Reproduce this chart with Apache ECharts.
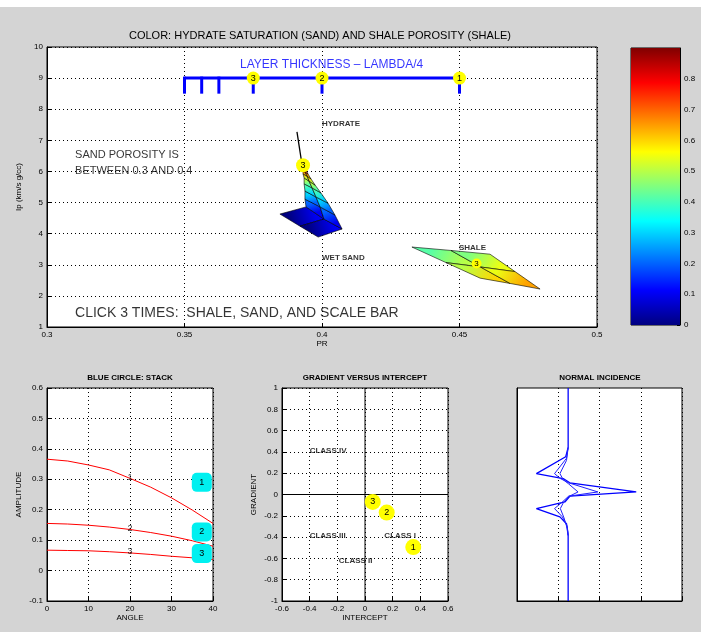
<!DOCTYPE html>
<html><head><meta charset="utf-8">
<script src="https://cdn.jsdelivr.net/npm/echarts@6/dist/echarts.min.js"></script>
<style>html,body{margin:0;padding:0;background:#fff}#c{width:701px;height:632px}</style>
</head><body><div id="c"></div>
<script>
// ---------------- DATA ----------------
const prRange = [0.3, 0.5];
const ipRange = [1, 10];
const colorRange = [0, 0.9];

// sand surface mesh (3 columns, rows = hydrate saturation)
const sandSat  = [0, 0.1, 0.2, 0.3, 0.4, 0.5, 0.6, 0.7, 0.8, 0.9];
const sandPR_A = [0.3847, 0.3942, 0.3938, 0.3938, 0.3935, 0.3935, 0.3931, 0.3931, 0.3927, 0.3927];
const sandIp_A = [4.63, 4.86, 5.11, 5.37, 5.60, 5.79, 5.92, 6.05, 6.14, 6.24];
const sandPR_B = [0.3920, 0.4007, 0.3993, 0.3978, 0.3964, 0.3953, 0.3946, 0.3938, 0.3935, 0.3931];
const sandIp_B = [4.24, 4.47, 4.86, 5.18, 5.47, 5.69, 5.85, 5.98, 6.11, 6.21];
const sandPR_C = [0.3986, 0.4073, 0.4047, 0.4022, 0.3996, 0.3975, 0.3960, 0.3949, 0.3942, 0.3935];
const sandIp_C = [3.89, 4.15, 4.60, 4.98, 5.31, 5.56, 5.76, 5.92, 6.05, 6.17];
const sandLinePR = [0.3909, 0.3927];
const sandLineIp = [7.27, 6.24];

// shale surface mesh (3 x 3), colour = shale porosity
const shalePR  = [[0.4327, 0.4469, 0.4611], [0.4451, 0.4576, 0.4702], [0.4575, 0.4684, 0.4793]];
const shaleIp  = [[3.57, 3.46, 3.34], [3.07, 2.93, 2.78], [2.57, 2.40, 2.22]];
const shaleVal = [[0.40, 0.43, 0.47], [0.48, 0.52, 0.57], [0.58, 0.62, 0.67]];

// scale bar
const scaleBarIp = 9;
const scaleTickBottom = 8.5;
const scaleBarPR = [0.35, 0.45];
const scaleTicks = [0.35, 0.35625, 0.3625, 0.375, 0.4, 0.45];
const scaleCirclePR = [0.375, 0.4, 0.45];
const scaleCircleLbl = ['3', '2', '1'];

const sandCircle = [0.3931, 6.2, '3'];
const shaleCircle = [0.4562, 3.04, '3'];

// stack panel
const stackAngle = [0, 5, 10, 15, 20, 25, 30, 35, 40];
const stackAmp1 = [0.366, 0.360, 0.347, 0.331, 0.303, 0.274, 0.239, 0.199, 0.155];
const stackAmp2 = [0.155, 0.153, 0.149, 0.143, 0.135, 0.125, 0.113, 0.098, 0.080];
const stackAmp3 = [0.067, 0.066, 0.065, 0.062, 0.058, 0.053, 0.047, 0.042, 0.036];
const stackCurveLblAmp = [0.305, 0.137, 0.062];
const stackBoxAngle = 37.3;
const stackBoxAmp = [0.29, 0.127, 0.056];
const stackLbl = ['1', '2', '3'];

// gradient vs intercept
const giIntercept = [0.349, 0.157, 0.056];
const giGradient = [-0.494, -0.17, -0.07];
const giLbl = ['1', '2', '3'];
const classNames = ['CLASS IV', 'CLASS III', 'CLASS II', 'CLASS I'];
const classX = [-0.40, -0.40, -0.19, 0.14];
const classY = [0.41, -0.39, -0.62, -0.39];

// normal incidence traces (amplitude offset, time)
const niTime1 = [0, 27.9, 32.3, 40.2, 42.5, 44.5, 48.8, 50.8, 53.5, 56.6, 60.5, 63.7, 69.2, 100];
const niAmp1  = [1.24, 1.24, 1.18, 0.47, 1.12, 1.28, 2.89, 1.28, 1.16, 0.47, 1.04, 1.20, 1.24, 1.24];
const niTime2 = [27.9, 33, 40.2, 42.5, 44.5, 48.8, 50.8, 53.5, 56.6, 60.5, 65, 69.2];
const niAmp2  = [1.24, 1.20, 0.91, 1.05, 1.25, 1.96, 1.25, 1.10, 0.91, 1.10, 1.22, 1.24];
const niTime3 = [28, 34, 40.2, 43, 45, 48.8, 51, 54, 56.6, 61, 66, 69.2];
const niAmp3  = [1.24, 1.20, 1.04, 1.12, 1.25, 1.48, 1.25, 1.12, 1.05, 1.14, 1.22, 1.24];

// ---------------- HELPERS ----------------
const FONT = 'Liberation Sans, Arial, Helvetica, sans-serif';
function jet(v) {
  const t = (v - colorRange[0]) / (colorRange[1] - colorRange[0]);
  const c = x => Math.round(255 * Math.max(0, Math.min(1, x)));
  return 'rgb(' + c(1.5 - Math.abs(4 * t - 3)) + ',' + c(1.5 - Math.abs(4 * t - 2)) + ',' + c(1.5 - Math.abs(4 * t - 1)) + ')';
}
const zip = (a, b) => a.map((v, i) => [v, b[i]]);

const sandQuads = [];
const cols = [[sandPR_A, sandIp_A], [sandPR_B, sandIp_B], [sandPR_C, sandIp_C]];
for (let i = 0; i < sandSat.length - 1; i++) {
  for (let c = 0; c < 2; c++) {
    const [pa, ia] = cols[c], [pb, ib] = cols[c + 1];
    sandQuads.push([pa[i], ia[i], pb[i], ib[i], pb[i + 1], ib[i + 1], pa[i + 1], ia[i + 1], sandSat[i], sandSat[i + 1]]);
  }
}
const shaleQuads = [];
for (let r = 0; r < 2; r++) {
  for (let c = 0; c < 2; c++) {
    shaleQuads.push([shalePR[r][c], shaleIp[r][c], shalePR[r][c + 1], shaleIp[r][c + 1],
      shalePR[r + 1][c + 1], shaleIp[r + 1][c + 1], shalePR[r + 1][c], shaleIp[r + 1][c],
      (shaleVal[r][c] + shaleVal[r][c + 1]) / 2, (shaleVal[r + 1][c] + shaleVal[r + 1][c + 1]) / 2]);
  }
}

function quadRender(params, api) {
  const p = [];
  for (let k = 0; k < 4; k++) p.push(api.coord([api.value(2 * k), api.value(2 * k + 1)]));
  const m0 = [(p[0][0] + p[1][0]) / 2, (p[0][1] + p[1][1]) / 2];
  const m1 = [(p[2][0] + p[3][0]) / 2, (p[2][1] + p[3][1]) / 2];
  const fill = new echarts.graphic.LinearGradient(m0[0], m0[1], m1[0], m1[1],
    [{ offset: 0, color: jet(api.value(8)) }, { offset: 1, color: jet(api.value(9)) }], true);
  return { type: 'polygon', shape: { points: p }, style: { fill: fill, stroke: '#000', lineWidth: 0.6 } };
}

const dotted = { show: true, lineStyle: { color: '#000', type: [1, 3], width: 1 } };
const lbl = (size) => ({ color: '#000', fontSize: size, fontFamily: FONT, margin: 4 });
const tick = { show: true, inside: true, length: 4, lineStyle: { color: '#000' } };
const aline = { show: true, onZero: false, lineStyle: { color: '#000', width: 1 } };
const gridBase = { show: true, backgroundColor: '#fff', borderColor: '#000', borderWidth: 1, containLabel: false };
const nameStyle = { fontSize: 8, fontFamily: FONT, color: '#000' };

function textSeries(xi, yi, items, opts) {
  return {
    type: 'scatter', xAxisIndex: xi, yAxisIndex: yi, symbolSize: 0, silent: true, z: 8,
    data: items,
    label: Object.assign({ show: true, position: 'right', distance: 0, formatter: p => p.data[2],
      color: '#000', fontFamily: FONT, fontSize: 9 }, opts)
  };
}
function circleSeries(xi, yi, items, size, color, symbol, fs) {
  return {
    type: 'scatter', xAxisIndex: xi, yAxisIndex: yi, symbol: symbol || 'circle', symbolSize: size, z: 9,
    itemStyle: { color: color, opacity: 1 },
    data: items,
    label: { show: true, position: 'inside', formatter: p => p.data[2], color: '#000', fontSize: fs || 8, fontFamily: FONT }
  };
}

const option = {
  backgroundColor: '#d4d4d4',
  animation: false,
  graphic: [
    { type: 'rect', shape: { x: 0, y: 0, width: 701, height: 7 }, style: { fill: '#fff' }, silent: true },
    { type: 'text', position: [320, 36], style: { text: 'COLOR: HYDRATE SATURATION (SAND) AND SHALE POROSITY (SHALE)', fill: '#000', font: '11px ' + FONT, textAlign: 'center', textVerticalAlign: 'middle' } },
    { type: 'text', position: [130, 378], style: { text: 'BLUE CIRCLE: STACK', fill: '#000', font: 'bold 8px ' + FONT, textAlign: 'center', textVerticalAlign: 'middle' } },
    { type: 'text', position: [365, 378], style: { text: 'GRADIENT VERSUS INTERCEPT', fill: '#000', font: 'bold 8px ' + FONT, textAlign: 'center', textVerticalAlign: 'middle' } },
    { type: 'text', position: [600, 378], style: { text: 'NORMAL INCIDENCE', fill: '#000', font: 'bold 8px ' + FONT, textAlign: 'center', textVerticalAlign: 'middle' } }
  ],
  grid: [
    Object.assign({ left: 47, top: 47, width: 550, height: 280 }, gridBase),
    Object.assign({ left: 631, top: 48, width: 49, height: 277 }, gridBase),
    Object.assign({ left: 47, top: 388, width: 166, height: 213 }, gridBase),
    Object.assign({ left: 282, top: 388, width: 166, height: 213 }, gridBase),
    Object.assign({ left: 517, top: 388, width: 165, height: 213 }, gridBase)
  ],
  xAxis: [
    { gridIndex: 0, type: 'value', min: prRange[0], max: prRange[1], interval: 0.05, name: 'PR', nameLocation: 'middle', nameGap: 13,
      nameTextStyle: nameStyle, axisLabel: lbl(8), axisTick: tick, axisLine: aline, splitLine: dotted },
    { gridIndex: 1, type: 'value', min: 0, max: 1, show: false },
    { gridIndex: 2, type: 'value', min: 0, max: 40, interval: 10, name: 'ANGLE', nameLocation: 'middle', nameGap: 12,
      nameTextStyle: nameStyle, axisLabel: lbl(8), axisTick: tick, axisLine: aline, splitLine: dotted },
    { gridIndex: 3, type: 'value', min: -0.6, max: 0.6, interval: 0.2, name: 'INTERCEPT', nameLocation: 'middle', nameGap: 12,
      nameTextStyle: nameStyle, axisLabel: lbl(8), axisTick: tick, axisLine: aline, splitLine: dotted },
    { gridIndex: 4, type: 'value', min: 0, max: 4, interval: 1, axisLabel: { show: false }, axisTick: tick, axisLine: aline, splitLine: dotted }
  ],
  yAxis: [
    { gridIndex: 0, type: 'value', min: ipRange[0], max: ipRange[1], interval: 1, name: 'Ip (km/s g/cc)', nameLocation: 'middle', nameGap: 13,
      nameTextStyle: nameStyle, axisLabel: lbl(8), axisTick: tick, axisLine: aline, splitLine: dotted },
    { gridIndex: 1, type: 'value', min: colorRange[0], max: colorRange[1], interval: 0.1, position: 'right',
      axisLabel: Object.assign(lbl(8), { showMaxLabel: false }), axisTick: { show: true, inside: true, length: 3, lineStyle: { color: '#000' } }, axisLine: aline, splitLine: { show: false } },
    { gridIndex: 2, type: 'value', min: -0.1, max: 0.6, interval: 0.1, name: 'AMPLITUDE', nameLocation: 'middle', nameGap: 24,
      nameTextStyle: nameStyle, axisLabel: lbl(8), axisTick: tick, axisLine: aline, splitLine: dotted },
    { gridIndex: 3, type: 'value', min: -1, max: 1, interval: 0.2, name: 'GRADIENT', nameLocation: 'middle', nameGap: 24,
      nameTextStyle: nameStyle, axisLabel: lbl(8), axisTick: tick, axisLine: aline, splitLine: dotted },
    { gridIndex: 4, type: 'value', min: 0, max: 100, inverse: true, axisLabel: { show: false }, axisTick: { show: false }, axisLine: aline, splitLine: { show: false } }
  ],
  series: [
    // ---- main panel ----
    { type: 'custom', xAxisIndex: 0, yAxisIndex: 0, renderItem: quadRender, data: sandQuads, z: 3,
      encode: { x: [0, 2, 4, 6], y: [1, 3, 5, 7] } },
    { type: 'custom', xAxisIndex: 0, yAxisIndex: 0, renderItem: quadRender, data: shaleQuads, z: 3,
      encode: { x: [0, 2, 4, 6], y: [1, 3, 5, 7] } },
    { type: 'line', xAxisIndex: 0, yAxisIndex: 0, data: zip(sandLinePR, sandLineIp), symbol: 'none', z: 4,
      lineStyle: { color: '#000', width: 1.3 } },
    { type: 'line', xAxisIndex: 0, yAxisIndex: 0, data: scaleBarPR.map(x => [x, scaleBarIp]), symbol: 'none', z: 5,
      lineStyle: { color: '#0000ff', width: 3 } },
    { type: 'custom', xAxisIndex: 0, yAxisIndex: 0, z: 5, data: scaleTicks.map(x => [x, scaleBarIp, scaleTickBottom]),
      encode: { x: 0, y: [1, 2] },
      renderItem: (params, api) => {
        const a = api.coord([api.value(0), api.value(1)]), b = api.coord([api.value(0), api.value(2)]);
        return { type: 'line', shape: { x1: a[0], y1: a[1] - 1.5, x2: b[0], y2: b[1] }, style: { stroke: '#0000ff', lineWidth: 3 } };
      } },
    circleSeries(0, 0, scaleCirclePR.map((x, i) => [x, scaleBarIp, scaleCircleLbl[i]]), 13, '#ffff00', 'circle', 9),
    circleSeries(0, 0, [sandCircle], 14, '#ffff00', 'circle', 9),
    circleSeries(0, 0, [shaleCircle], 10, '#ffff00', 'circle', 8),
    textSeries(0, 0, [[0.3702, 9.42, 'LAYER THICKNESS \u2013 LAMBDA/4']], { color: '#0000ff', fontSize: 12 }),
    textSeries(0, 0, [[0.4, 7.52, 'HYDRATE'], [0.4, 3.22, 'WET SAND'], [0.4498, 3.54, 'SHALE']], { fontSize: 8, fontWeight: 'bold' }),
    textSeries(0, 0, [[0.3102, 6.53, 'SAND POROSITY IS'], [0.3102, 6.01, 'BETWEEN 0.3 AND 0.4']], { fontSize: 11 }),
    textSeries(0, 0, [[0.3102, 1.45, 'CLICK 3 TIMES:  SHALE, SAND, AND SCALE BAR']], { fontSize: 14 }),
    // ---- colorbar ----
    { type: 'custom', xAxisIndex: 1, yAxisIndex: 1, data: [[0, colorRange[0], 1, colorRange[1]]], encode: { x: [0, 2], y: [1, 3] },
      renderItem: (params, api) => {
        const a = api.coord([api.value(0), api.value(3)]), b = api.coord([api.value(2), api.value(1)]);
        const stops = [0, 0.125, 0.375, 0.625, 0.875, 1].map(t => ({ offset: 1 - t, color: jet(colorRange[0] + t * (colorRange[1] - colorRange[0])) }));
        stops.reverse();
        return { type: 'rect', shape: { x: a[0], y: a[1], width: b[0] - a[0], height: b[1] - a[1] },
          style: { fill: new echarts.graphic.LinearGradient(0, 0, 0, 1, stops) } };
      } },
    // ---- stack panel ----
    ...[stackAmp1, stackAmp2, stackAmp3].map(a => ({ type: 'line', xAxisIndex: 2, yAxisIndex: 2, data: zip(stackAngle, a),
      symbol: 'none', smooth: false, lineStyle: { color: '#ff0000', width: 1 }, z: 3 })),
    textSeries(2, 2, stackLbl.map((l, i) => [20, stackCurveLblAmp[i], l]), { fontSize: 9, position: 'inside' }),
    circleSeries(2, 2, stackLbl.map((l, i) => [stackBoxAngle, stackBoxAmp[i], l]), [20, 19], '#00f0f0', 'roundRect', 9),
    // ---- gradient vs intercept ----
    { type: 'line', xAxisIndex: 3, yAxisIndex: 3, data: [[0, -1], [0, 1]], symbol: 'none', lineStyle: { color: '#000', width: 1 }, z: 2 },
    { type: 'line', xAxisIndex: 3, yAxisIndex: 3, data: [[-0.6, 0], [0.6, 0]], symbol: 'none', lineStyle: { color: '#000', width: 1 }, z: 2 },
    textSeries(3, 3, classNames.map((n, i) => [classX[i], classY[i], n]), { fontSize: 8, fontWeight: 'bold' }),
    circleSeries(3, 3, giLbl.map((l, i) => [giIntercept[i], giGradient[i], l]), 16, '#ffff00', 'circle', 9),
    // ---- normal incidence ----
    { type: 'line', xAxisIndex: 4, yAxisIndex: 4, data: zip(niAmp1, niTime1), symbol: 'none', lineStyle: { color: '#0000ff', width: 1.3 } },
    { type: 'line', xAxisIndex: 4, yAxisIndex: 4, data: zip(niAmp2, niTime2), symbol: 'none', lineStyle: { color: '#2020ff', width: 1 } },
    { type: 'line', xAxisIndex: 4, yAxisIndex: 4, data: zip(niAmp3, niTime3), symbol: 'none', lineStyle: { color: '#2020ff', width: 1 } }
  ]
};
const chart = echarts.init(document.getElementById('c'));
chart.setOption(option);
</script>
</body></html>
